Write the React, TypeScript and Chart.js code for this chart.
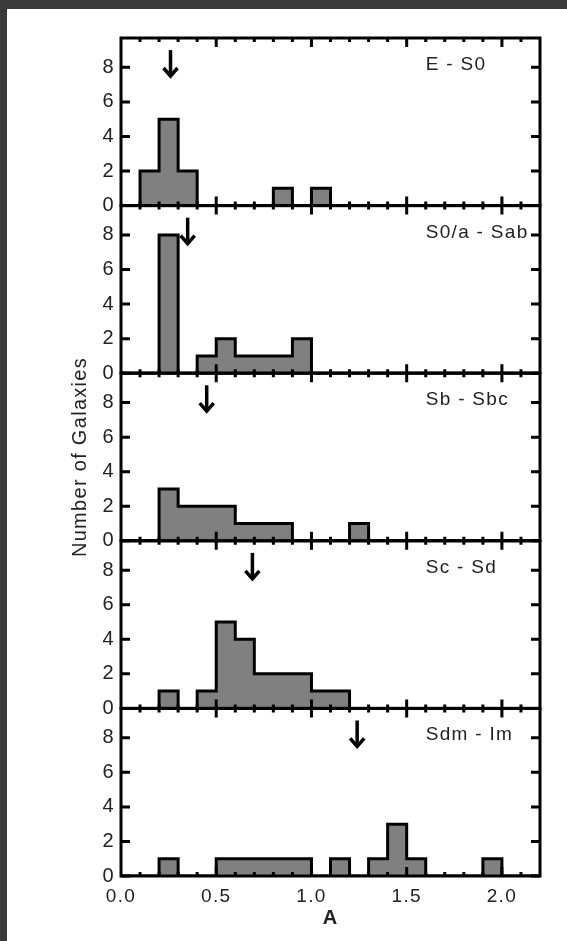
import React, { useEffect, useRef } from 'react';
import { Chart, registerables } from 'chart.js';

Chart.register(...registerables);

// ---- data ----
const binWidth = 0.1;
const binStarts = [0.0, 0.1, 0.2, 0.3, 0.4, 0.5, 0.6, 0.7, 0.8, 0.9, 1.0, 1.1, 1.2, 1.3, 1.4, 1.5, 1.6, 1.7, 1.8, 1.9, 2.0, 2.1];

const panelNames = ['E - S0', 'S0/a - Sab', 'Sb - Sbc', 'Sc - Sd', 'Sdm - Im'];

const countsE_S0 = [0, 2, 5, 2, 0, 0, 0, 0, 1, 0, 1, 0, 0, 0, 0, 0, 0, 0, 0, 0, 0, 0];
const countsS0a_Sab = [0, 0, 8, 0, 1, 2, 1, 1, 1, 2, 0, 0, 0, 0, 0, 0, 0, 0, 0, 0, 0, 0];
const countsSb_Sbc = [0, 0, 3, 2, 2, 2, 1, 1, 1, 0, 0, 0, 1, 0, 0, 0, 0, 0, 0, 0, 0, 0];
const countsSc_Sd = [0, 0, 1, 0, 1, 5, 4, 2, 2, 2, 1, 1, 0, 0, 0, 0, 0, 0, 0, 0, 0, 0];
const countsSdm_Im = [0, 0, 1, 0, 0, 1, 1, 1, 1, 1, 0, 1, 0, 1, 3, 1, 0, 0, 0, 1, 0, 0];

const panelCounts = [countsE_S0, countsS0a_Sab, countsSb_Sbc, countsSc_Sd, countsSdm_Im];

// mean A of each class (arrows)
const meanA = [0.26, 0.35, 0.45, 0.69, 1.24];

const yTickValues = [0, 2, 4, 6, 8];
const yTickLabels = ['0', '2', '4', '6', '8'];
const xTickValues = [0.0, 0.5, 1.0, 1.5, 2.0];
const xTickLabels = ['0.0', '0.5', '1.0', '1.5', '2.0'];

const xTitle = 'A';
const yTitle = 'Number of Galaxies';

// ---- styles ----
const FONT = '"Liberation Sans", Arial, Helvetica, sans-serif';
const TEXT = '#222222';
const FILL = '#808080';
const LINE = '#000000';
const Y_MAX = 9.7;
const X_MAX = 2.2;
const panelIds = ['y1', 'y2', 'y3', 'y4', 'y5'];

function stepPoints(counts: number[]) {
  const pts = binStarts.map((x, i) => ({ x, y: counts[i] }));
  pts.push({ x: binStarts[binStarts.length - 1] + binWidth, y: 0 });
  return pts;
}

const spacingPlugin = {
  id: 'letterSpacing',
  beforeDraw(chart: any) {
    (chart.ctx as any).letterSpacing = '1.3px';
  },
};

const decorPlugin = {
  id: 'panelDecor',
  afterDatasetsDraw(chart: any) {
    const ctx = chart.ctx as CanvasRenderingContext2D;
    const xs = chart.scales.x;
    const { left, right } = chart.chartArea;
    ctx.save();
    ctx.strokeStyle = LINE;
    ctx.fillStyle = LINE;
    panelIds.forEach((id, p) => {
      const ys = chart.scales[id];
      const top = ys.top;
      const bottom = ys.bottom;
      ctx.lineWidth = 3;
      ctx.lineCap = 'butt';
      ctx.lineJoin = 'miter';
      // y ticks (inward, both sides)
      ctx.beginPath();
      yTickValues.forEach((v) => {
        const y = ys.getPixelForValue(v);
        ctx.moveTo(left, y);
        ctx.lineTo(left + 9, y);
        ctx.moveTo(right, y);
        ctx.lineTo(right - 9, y);
      });
      // x ticks (inward, top and bottom)
      binStarts.forEach((v) => {
        if (v <= 0) return;
        const major = xTickValues.some((t) => Math.abs(t - v) < 1e-6);
        const len = major ? 9 : 4;
        const x = xs.getPixelForValue(v);
        ctx.moveTo(x, bottom);
        ctx.lineTo(x, bottom - len);
        ctx.moveTo(x, top);
        ctx.lineTo(x, top + len);
      });
      ctx.stroke();
      // frame
      ctx.strokeRect(left, top, right - left, bottom - top);
      // arrow at mean
      const ax = xs.getPixelForValue(meanA[p]);
      const ay0 = ys.getPixelForValue(9.0);
      const ay1 = ys.getPixelForValue(7.5);
      ctx.lineWidth = 3.5;
      ctx.beginPath();
      ctx.moveTo(ax, ay0);
      ctx.lineTo(ax, ay1 - 1);
      ctx.stroke();
      ctx.beginPath();
      ctx.moveTo(ax - 7, ay1 - 8);
      ctx.lineTo(ax, ay1);
      ctx.lineTo(ax + 7, ay1 - 8);
      ctx.stroke();
      // panel label
      ctx.font = `19px ${FONT}`;
      ctx.fillStyle = TEXT;
      ctx.textAlign = 'left';
      ctx.textBaseline = 'middle';
      ctx.fillText(panelNames[p], xs.getPixelForValue(1.6), ys.getPixelForValue(8.15));
      ctx.fillStyle = LINE;
    });
    ctx.restore();
  },
};

export default function App() {
  const canvasRef = useRef<HTMLCanvasElement | null>(null);

  useEffect(() => {
    const canvas = canvasRef.current;
    if (!canvas) return;

    const datasets = panelCounts.map((counts, p) => ({
      label: panelNames[p],
      data: stepPoints(counts),
      xAxisID: 'x',
      yAxisID: panelIds[p],
      stepped: true,
      fill: 'origin',
      backgroundColor: FILL,
      borderColor: LINE,
      borderWidth: 3,
      borderJoinStyle: 'miter',
      pointRadius: 0,
      tension: 0,
    }));

    const scales: any = {
      x: {
        type: 'linear',
        position: 'bottom',
        min: 0,
        max: X_MAX,
        afterBuildTicks: (s: any) => {
          s.ticks = xTickValues.map((v) => ({ value: v }));
        },
        ticks: {
          callback: (_v: any, i: number) => xTickLabels[i],
          font: { family: FONT, size: 19 },
          color: TEXT,
          padding: 9,
          maxRotation: 0,
          autoSkip: false,
        },
        grid: { display: false, drawTicks: false },
        border: { display: false },
        title: {
          display: true,
          text: xTitle,
          font: { family: FONT, size: 20, weight: 'bold' },
          color: TEXT,
          padding: { top: 0, bottom: 4 },
        },
        afterFit: (s: any) => {
          s.height = 58;
        },
      },
    };

    panelIds.forEach((id, p) => {
      scales[id] = {
        type: 'linear',
        position: 'left',
        stack: 'panels',
        stackWeight: 1,
        weight: panelIds.length - p,
        min: 0,
        max: Y_MAX,
        afterBuildTicks: (s: any) => {
          s.ticks = yTickValues.map((v) => ({ value: v }));
        },
        ticks: {
          callback: (_v: any, i: number) => yTickLabels[i],
          font: { family: FONT, size: 20 },
          color: TEXT,
          padding: 6,
          autoSkip: false,
        },
        grid: { display: false, drawTicks: false },
        border: { display: false },
        title: {
          display: p === 2,
          text: yTitle,
          font: { family: FONT, size: 20 },
          color: TEXT,
          padding: { top: 4, bottom: 0 },
        },
        afterFit: (s: any) => {
          s.width = 57;
        },
      };
    });

    const chart = new Chart(canvas, {
      type: 'line',
      data: { datasets: datasets as any },
      options: {
        responsive: false,
        animation: false,
        devicePixelRatio: 1,
        layout: { padding: { left: 64, right: 27, top: 38, bottom: 7 } },
        plugins: {
          legend: { display: false },
          tooltip: { enabled: false },
        },
        scales,
      },
      plugins: [spacingPlugin, decorPlugin],
    });

    return () => {
      chart.destroy();
    };
  }, []);

  return (
    <div
      style={{
        position: 'fixed',
        left: 0,
        top: 0,
        width: 567,
        height: 941,
        background: '#3a3a3a',
        overflow: 'hidden',
      }}
    >
      <div
        style={{
          position: 'absolute',
          left: 7,
          top: 9,
          width: 560,
          height: 932,
          background: '#ffffff',
        }}
      />
      <canvas
        ref={canvasRef}
        width={567}
        height={941}
        style={{ position: 'absolute', left: 0, top: 0, display: 'block' }}
      />
    </div>
  );
}
